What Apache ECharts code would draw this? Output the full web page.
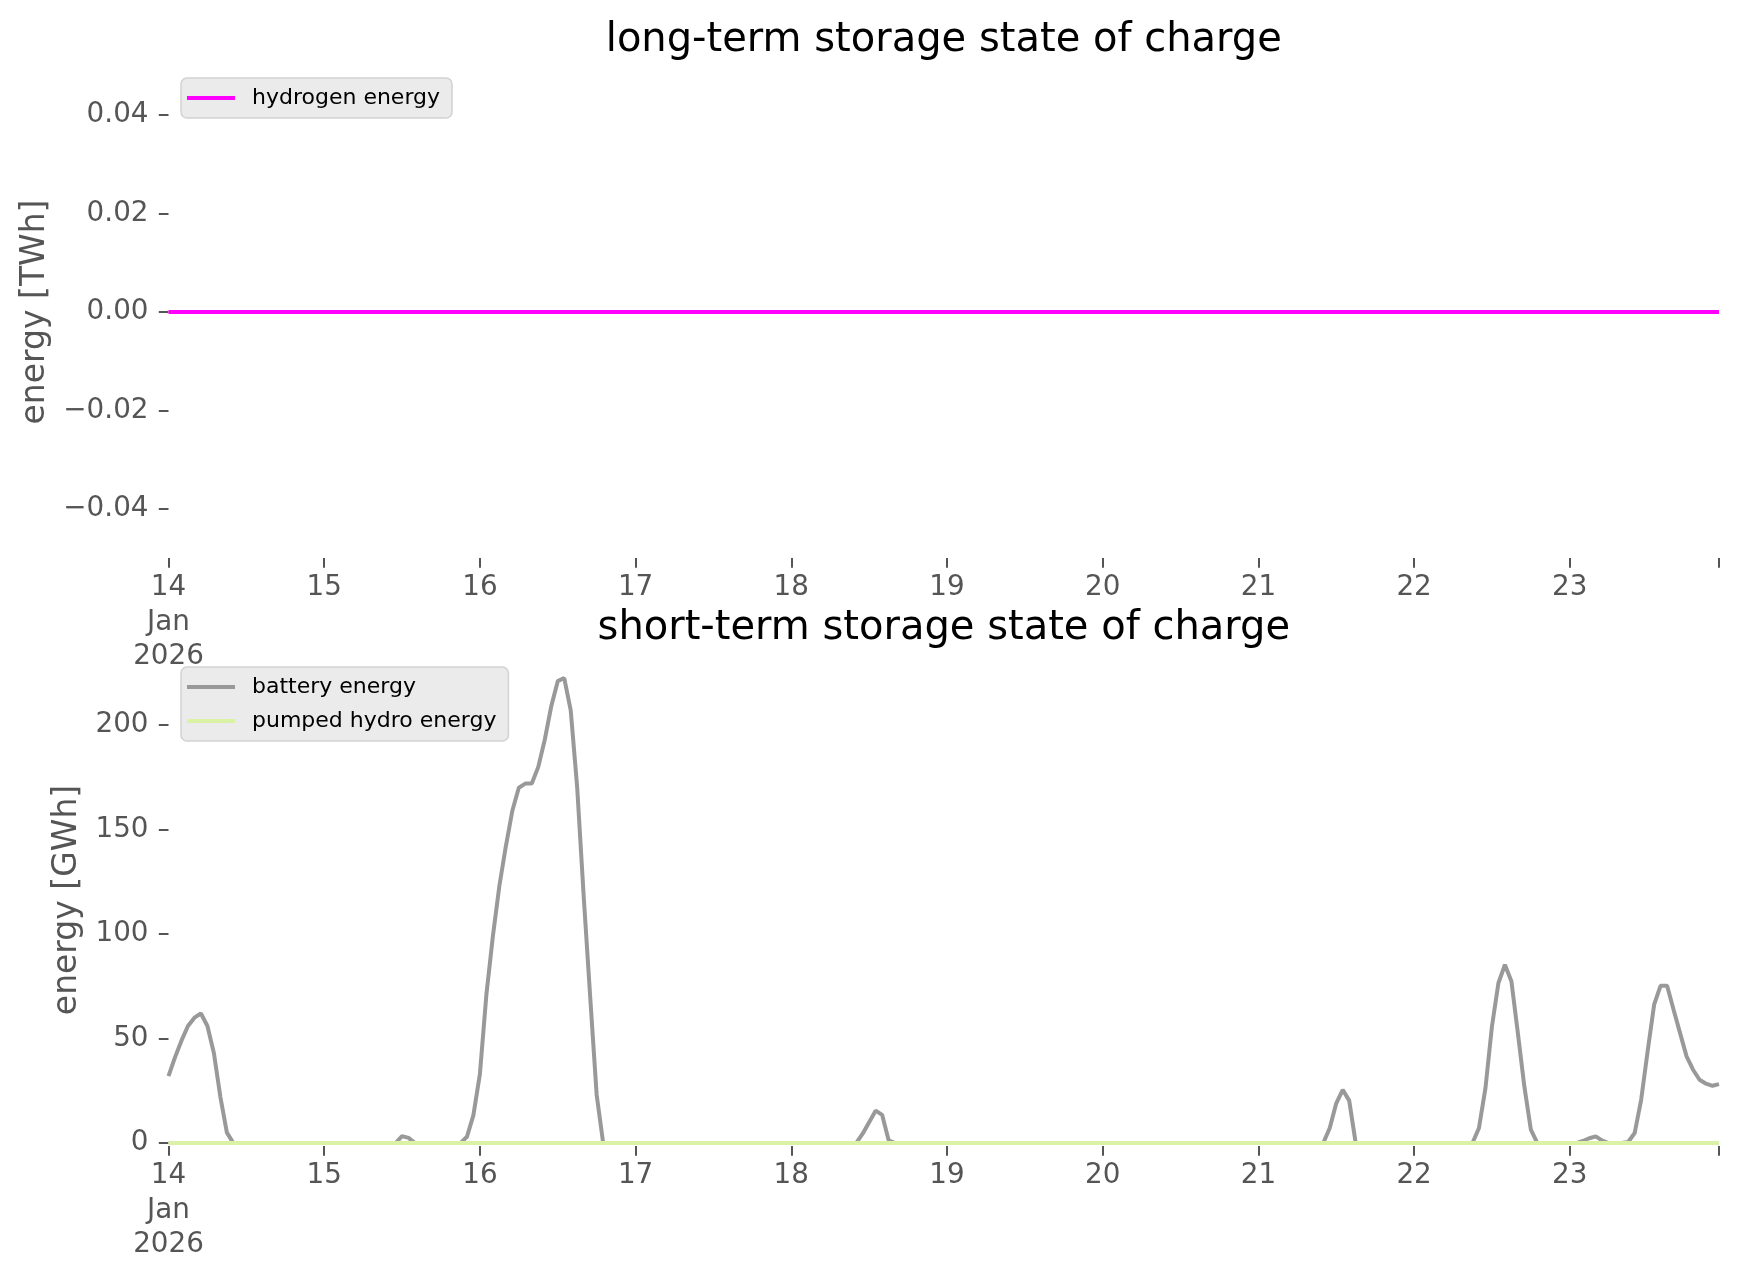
<!DOCTYPE html>
<html><head><meta charset="utf-8">
<script src="https://cdn.jsdelivr.net/npm/echarts@6/dist/echarts.min.js"></script>
<style>html,body{margin:0;padding:0;background:#fff}#c{width:1738px;height:1277px}</style>
</head><body><div id="c"></div>
<script>
// hourly samples starting 2026-01-14 00:00
const startUTC = Date.UTC(2026, 0, 14, 0, 0, 0);
const hourMs = 3600000;

const hydrogenEnergyTWh = [
  0,0,0,0,0,0,0,0,0,0,0,0,0,0,0,0,0,0,0,0,0,0,0,0,
  0,0,0,0,0,0,0,0,0,0,0,0,0,0,0,0,0,0,0,0,0,0,0,0,
  0,0,0,0,0,0,0,0,0,0,0,0,0,0,0,0,0,0,0,0,0,0,0,0,
  0,0,0,0,0,0,0,0,0,0,0,0,0,0,0,0,0,0,0,0,0,0,0,0,
  0,0,0,0,0,0,0,0,0,0,0,0,0,0,0,0,0,0,0,0,0,0,0,0,
  0,0,0,0,0,0,0,0,0,0,0,0,0,0,0,0,0,0,0,0,0,0,0,0,
  0,0,0,0,0,0,0,0,0,0,0,0,0,0,0,0,0,0,0,0,0,0,0,0,
  0,0,0,0,0,0,0,0,0,0,0,0,0,0,0,0,0,0,0,0,0,0,0,0,
  0,0,0,0,0,0,0,0,0,0,0,0,0,0,0,0,0,0,0,0,0,0,0,0,
  0,0,0,0,0,0,0,0,0,0,0,0,0,0,0,0,0,0,0,0,0,0,0,0
];

const batteryEnergyGWh = [
  32,41,49,56,60,62,56,43,22,5,0,0,0,0,0,0,0,0,0,0,0,0,0,0,
  0,0,0,0,0,0,0,0,0,0,0,0,3.3,2.5,0,0,0,0,0,0,0,0,3,13.4,
  33,71,99,123,142,159,170,172,172,180,193,209,221,222.5,207,170,118,70,23,0,0,0,0,0,
  0,0,0,0,0,0,0,0,0,0,0,0,0,0,0,0,0,0,0,0,0,0,0,0,
  0,0,0,0,0,0,0,0,0,0,0,4.5,10,15.5,13.5,1.3,0,0,0,0,0,0,0,0,
  0,0,0,0,0,0,0,0,0,0,0,0,0,0,0,0,0,0,0,0,0,0,0,0,
  0,0,0,0,0,0,0,0,0,0,0,0,0,0,0,0,0,0,0,0,0,0,0,0,
  0,0,0,0,0,0,0,0,0,0,0,7.2,19,25.5,20.3,0,0,0,0,0,0,0,0,0,
  0,0,0,0,0,0,0,0,0,0,7.2,26.3,55.8,76.6,85.3,77.4,52.6,27,6.4,0,0,0,0,0,
  0,0,1,2.3,3.2,1.2,0,0,0,0.5,4.8,20.7,43.9,66.2,75.3,75.3,63.8,52.6,41.5,35.1,30.3,28.4,27.4,28.2
];

const pumpedHydroEnergyGWh = [
  0,0,0,0,0,0,0,0,0,0,0,0,0,0,0,0,0,0,0,0,0,0,0,0,
  0,0,0,0,0,0,0,0,0,0,0,0,0,0,0,0,0,0,0,0,0,0,0,0,
  0,0,0,0,0,0,0,0,0,0,0,0,0,0,0,0,0,0,0,0,0,0,0,0,
  0,0,0,0,0,0,0,0,0,0,0,0,0,0,0,0,0,0,0,0,0,0,0,0,
  0,0,0,0,0,0,0,0,0,0,0,0,0,0,0,0,0,0,0,0,0,0,0,0,
  0,0,0,0,0,0,0,0,0,0,0,0,0,0,0,0,0,0,0,0,0,0,0,0,
  0,0,0,0,0,0,0,0,0,0,0,0,0,0,0,0,0,0,0,0,0,0,0,0,
  0,0,0,0,0,0,0,0,0,0,0,0,0,0,0,0,0,0,0,0,0,0,0,0,
  0,0,0,0,0,0,0,0,0,0,0,0,0,0,0,0,0,0,0,0,0,0,0,0,
  0,0,0,0,0,0,0,0,0,0,0,0,0,0,0,0,0,0,0,0,0,0,0,0
];

const topYTicks = [-0.04, -0.02, 0, 0.02, 0.04];
const bottomYTicks = [0, 50, 100, 150, 200];
const firstDayLabel = '14\nJan\n2026';

const FONT = 'DejaVu Sans';
const GRAY = '#555555';

function toPairs(arr) { return arr.map((v, i) => [startUTC + i * hourMs, v]); }
const endUTC = startUTC + (batteryEnergyGWh.length - 1) * hourMs;

function xLabel(v) {
  const d = new Date(v);
  if (d.getUTCHours() !== 0 || d.getUTCMinutes() !== 0) return '';
  if (v === startUTC) return firstDayLabel;
  return String(d.getUTCDate());
}

function makeX(gridIndex, margin) {
  return {
    type: 'value', gridIndex, min: startUTC, max: endUTC, interval: 86400000,
    axisLine: { show: false, onZero: false },
    splitLine: { show: false },
    axisTick: { show: true, length: 9.7, lineStyle: { color: GRAY, width: 2 } },
    axisLabel: { formatter: xLabel, fontSize: 27.8, color: GRAY, fontFamily: FONT, lineHeight: 34.5, margin: margin, hideOverlap: false, showMinLabel: true, showMaxLabel: true }
  };
}

const legendBase = {
  orient: 'vertical', left: 181,
  backgroundColor: '#ebebeb', borderColor: '#d2d2d2', borderWidth: 1.5, borderRadius: 6,
  padding: [6, 12, 6, 6], itemWidth: 48, itemHeight: 4, icon: 'rect', itemGap: 6,
  textStyle: { fontSize: 22, color: '#000', fontFamily: FONT, lineHeight: 28, padding: [0, 0, 0, 12] }
};

const option = {
  backgroundColor: '#ffffff',
  animation: false,
  textStyle: { fontFamily: FONT },
  title: [
    { text: 'long-term storage state of charge', left: 943.8, top: 21, textAlign: 'center', padding: 0,
      textStyle: { fontSize: 40, fontWeight: 'normal', color: '#000', fontFamily: FONT, lineHeight: 40 } },
    { text: 'short-term storage state of charge', left: 943.8, top: 609, textAlign: 'center', padding: 0,
      textStyle: { fontSize: 40, fontWeight: 'normal', color: '#000', fontFamily: FONT, lineHeight: 40 } }
  ],
  legend: [
    Object.assign({}, legendBase, { top: 78, data: ['hydrogen energy'] }),
    Object.assign({}, legendBase, { top: 667, data: ['battery energy', 'pumped hydro energy'] })
  ],
  grid: [
    { left: 168.5, right: 19, top: 66, bottom: 1277 - 558 },
    { left: 168.5, right: 19, top: 654, bottom: 1277 - 1146 }
  ],
  xAxis: [makeX(0, 13), makeX(1, 13)],
  yAxis: [
    { type: 'value', gridIndex: 0, min: -0.05, max: 0.05,
      name: 'energy [TWh]', nameLocation: 'middle', nameGap: 116,
      nameTextStyle: { fontSize: 33, color: GRAY, fontFamily: FONT },
      axisLine: { show: false }, splitLine: { show: false },
      axisTick: { show: true, length: 9.7, customValues: topYTicks, lineStyle: { color: GRAY, width: 2 } },
      axisLabel: { customValues: topYTicks, fontSize: 27.8, color: GRAY, fontFamily: FONT, margin: 20,
        formatter: v => v.toFixed(2).replace('-', '\u2212') } },
    { type: 'value', gridIndex: 1, min: -1.4, max: 234,
      name: 'energy [GWh]', nameLocation: 'middle', nameGap: 85,
      nameTextStyle: { fontSize: 33, color: GRAY, fontFamily: FONT },
      axisLine: { show: false }, splitLine: { show: false },
      axisTick: { show: true, length: 9.7, customValues: bottomYTicks, lineStyle: { color: GRAY, width: 2 } },
      axisLabel: { customValues: bottomYTicks, fontSize: 27.8, color: GRAY, fontFamily: FONT, margin: 20,
        formatter: v => String(Math.round(v)) } }
  ],
  series: [
    { name: 'hydrogen energy', type: 'line', xAxisIndex: 0, yAxisIndex: 0, data: toPairs(hydrogenEnergyTWh),
      showSymbol: false, symbol: 'none', color: '#ff00ff', lineStyle: { width: 4, color: '#ff00ff' } },
    { name: 'battery energy', type: 'line', xAxisIndex: 1, yAxisIndex: 1, data: toPairs(batteryEnergyGWh),
      showSymbol: false, symbol: 'none', color: '#999999', lineStyle: { width: 4, color: '#999999' } },
    { name: 'pumped hydro energy', type: 'line', xAxisIndex: 1, yAxisIndex: 1, data: toPairs(pumpedHydroEnergyGWh),
      showSymbol: false, symbol: 'none', color: '#d9f2a5', lineStyle: { width: 4, color: '#d9f2a5' } }
  ]
};

const chart = echarts.init(document.getElementById('c'), null, { renderer: 'canvas' });
chart.setOption(option);
</script>
</body></html>
